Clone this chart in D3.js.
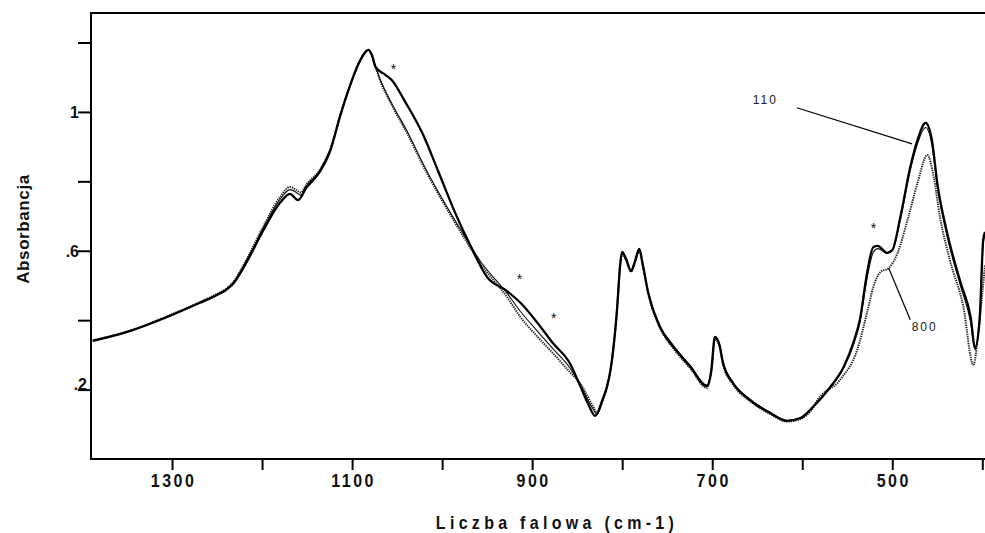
<!DOCTYPE html>
<html>
<head>
<meta charset="utf-8">
<script src="https://cdn.jsdelivr.net/npm/d3@7"></script>
<style>
  body { margin: 0; background: #fff; }
  svg { display: block; font-family: "Liberation Sans", Arial, sans-serif; }
</style>
</head>
<body>
<script>
// wavenumbers (cm-1) and absorbance
const wn110 = [1388, 1350, 1300, 1269, 1252, 1240, 1232, 1217, 1199, 1180, 1169, 1160, 1151, 1136, 1124, 1113, 1102, 1093, 1086, 1082, 1078, 1074, 1063, 1056, 1041, 1022, 1004, 986, 969, 950, 928, 913, 894, 877, 858, 847, 838, 830, 822, 817, 813, 806, 802, 800, 796, 790, 786, 781, 777, 771, 758, 743, 724, 706, 701, 697, 692, 688, 677, 658, 636, 617, 602, 588, 569, 554, 543, 536, 528, 521, 516, 510, 506, 500, 491, 480, 472, 463, 456, 450, 439, 424, 413, 408, 403, 399, 397];
const abs110 = [0.340, 0.366, 0.415, 0.450, 0.470, 0.487, 0.505, 0.568, 0.657, 0.738, 0.764, 0.746, 0.781, 0.827, 0.890, 0.991, 1.078, 1.138, 1.170, 1.179, 1.165, 1.130, 1.107, 1.092, 1.029, 0.939, 0.827, 0.712, 0.617, 0.524, 0.484, 0.450, 0.392, 0.334, 0.275, 0.213, 0.160, 0.124, 0.170, 0.207, 0.256, 0.421, 0.565, 0.597, 0.579, 0.542, 0.568, 0.605, 0.559, 0.478, 0.380, 0.323, 0.265, 0.210, 0.256, 0.352, 0.329, 0.277, 0.219, 0.170, 0.133, 0.110, 0.118, 0.150, 0.207, 0.265, 0.337, 0.401, 0.536, 0.611, 0.614, 0.602, 0.594, 0.602, 0.697, 0.841, 0.919, 0.968, 0.919, 0.795, 0.651, 0.507, 0.409, 0.320, 0.401, 0.631, 0.654];

const wn800 = [1388, 1350, 1300, 1269, 1252, 1240, 1232, 1217, 1199, 1180, 1169, 1162, 1157, 1151, 1136, 1124, 1113, 1102, 1093, 1086, 1082, 1078, 1074, 1069, 1056, 1039, 1017, 994, 974, 958, 928, 913, 894, 877, 858, 847, 832, 828, 822, 817, 813, 806, 802, 800, 796, 790, 786, 781, 777, 771, 758, 743, 724, 706, 701, 697, 692, 688, 677, 658, 636, 617, 602, 588, 583, 558, 539, 528, 521, 513, 504, 494, 483, 472, 461, 454, 447, 436, 421, 410, 403, 397];
const abs800 = [0.342, 0.367, 0.417, 0.452, 0.473, 0.490, 0.510, 0.576, 0.668, 0.755, 0.784, 0.775, 0.768, 0.790, 0.833, 0.895, 0.991, 1.078, 1.138, 1.170, 1.179, 1.160, 1.130, 1.092, 1.020, 0.939, 0.824, 0.718, 0.631, 0.565, 0.467, 0.409, 0.352, 0.305, 0.250, 0.219, 0.150, 0.133, 0.165, 0.207, 0.256, 0.421, 0.565, 0.592, 0.574, 0.540, 0.565, 0.598, 0.555, 0.475, 0.378, 0.318, 0.260, 0.205, 0.250, 0.345, 0.325, 0.272, 0.215, 0.167, 0.130, 0.108, 0.115, 0.148, 0.170, 0.228, 0.314, 0.421, 0.496, 0.539, 0.550, 0.594, 0.689, 0.795, 0.876, 0.813, 0.697, 0.573, 0.438, 0.271, 0.401, 0.559];

const wnMid = [1388, 1350, 1300, 1269, 1252, 1240, 1232, 1217, 1199, 1180, 1169, 1162, 1157, 1151, 1136, 1124, 1113, 1102, 1093, 1086, 1082, 1078, 1074, 1069, 1056, 1039, 1017, 994, 974, 958, 928, 913, 894, 877, 858, 847, 832, 828, 822, 817, 813, 806, 802, 800, 796, 790, 786, 781, 777, 771, 758, 743, 724, 706, 701, 697, 692, 688, 677, 658, 636, 617, 602, 588, 569, 554, 543, 536, 528, 521, 516, 510, 506, 500, 491, 480, 472, 463, 456, 450, 439, 424, 413, 408, 403, 399, 397];
const absMid = [0.340, 0.366, 0.416, 0.451, 0.472, 0.489, 0.508, 0.573, 0.663, 0.748, 0.776, 0.768, 0.760, 0.786, 0.830, 0.893, 0.991, 1.078, 1.138, 1.170, 1.179, 1.162, 1.132, 1.095, 1.025, 0.945, 0.830, 0.724, 0.638, 0.572, 0.478, 0.425, 0.368, 0.318, 0.262, 0.214, 0.143, 0.128, 0.167, 0.207, 0.256, 0.421, 0.562, 0.594, 0.576, 0.540, 0.566, 0.600, 0.556, 0.480, 0.384, 0.327, 0.268, 0.213, 0.252, 0.348, 0.330, 0.280, 0.222, 0.172, 0.135, 0.111, 0.118, 0.150, 0.205, 0.262, 0.330, 0.392, 0.520, 0.596, 0.606, 0.598, 0.592, 0.600, 0.690, 0.832, 0.908, 0.955, 0.905, 0.785, 0.640, 0.497, 0.395, 0.315, 0.395, 0.620, 0.645];

const xTicks = [1300, 1200, 1100, 1000, 900, 800, 700, 600, 500, 400];
const xLabels = ["1300", "", "1100", "", "900", "", "700", "", "500", ""];
const yTicks = [0.2, 0.4, 0.6, 0.8, 1.0, 1.2];
const yLabels = [".2", "", ".6", "", "1", ""];

// asterisks [wavenumber, absorbance] and sample labels
const stars = [[1054, 1.127], [914, 0.522], [876, 0.409], [521, 0.669]];
const sampleNames = ["110", "800"];
const labelAt = [[641, 1.023], [464, 0.369]];
const leaderFrom = [[606, 1.012], [480, 0.401]];
const leaderTo = [[478, 0.908], [504, 0.550]];

const W = 985, H = 533;
const mLeft = 91, mRight = 985, mTop = 13, mBottom = 459;

const svg = d3.select("body").append("svg")
  .attr("width", W)
  .attr("height", H);

const x = d3.scaleLinear().domain([1390, 397]).range([mLeft, mRight]);
const y = d3.scaleLinear().domain([0, 1.285]).range([mBottom, mTop]);

svg.append("defs").append("clipPath").attr("id", "plot")
  .append("rect").attr("x", mLeft).attr("y", mTop)
  .attr("width", mRight - mLeft).attr("height", mBottom - mTop);

// frame: left, top, bottom lines
svg.append("path")
  .attr("d", `M${mRight},${mTop}H${mLeft}V${mBottom}H${mRight}`)
  .attr("fill", "none").attr("stroke", "#000").attr("stroke-width", 2);

// x axis (labels are a bit taller than wide in the original)
const xAxis = d3.axisBottom(x).tickValues(xTicks).tickSize(11)
  .tickFormat((d, i) => xLabels[i]);
const gx = svg.append("g").attr("transform", `translate(0,${mBottom})`).call(xAxis);
gx.select(".domain").remove();
gx.selectAll("line").attr("stroke", "#000").attr("stroke-width", 2);
gx.selectAll("text")
  .attr("y", 24.5)
  .attr("dy", 0)
  .attr("dx", 1)
  .attr("transform", "scale(1,1.15)")
  .style("font-size", "16px")
  .style("font-weight", "bold")
  .style("letter-spacing", "2.5px")
  .attr("fill", "#111");

// y axis
const yAxis = d3.axisLeft(y).tickValues(yTicks).tickSize(13)
  .tickFormat((d, i) => yLabels[i]);
const gy = svg.append("g").attr("transform", `translate(${mLeft},0)`).call(yAxis);
gy.select(".domain").remove();
gy.selectAll("line").attr("stroke", "#000").attr("stroke-width", 2);
gy.selectAll("text")
  .attr("x", -12)
  .attr("dy", "0.36em")
  .style("font-size", "16px")
  .style("font-weight", "bold")
  .attr("fill", "#111");
// the ".2" label sits a little to the right in the original
gy.selectAll("text").filter(d => d === 0.2).attr("x", -4).attr("dy", "0.0em");

// axis titles
svg.append("text")
  .attr("transform", "translate(557,529) scale(1,1.2)")
  .attr("text-anchor", "middle")
  .style("font-size", "16px")
  .style("font-weight", "bold")
  .style("letter-spacing", "4.3px")
  .attr("fill", "#111")
  .text("Liczba falowa (cm-1)");

svg.append("text")
  .attr("transform", "translate(29,229) rotate(-90)")
  .attr("text-anchor", "middle")
  .style("font-size", "17px")
  .style("font-weight", "bold")
  .style("letter-spacing", "0.6px")
  .attr("fill", "#111")
  .text("Absorbancja");

// spectra
const line = (wn, ab) => d3.line()
  .x(i => x(wn[i]))
  .y(i => y(ab[i]))
  .curve(d3.curveMonotoneX)(d3.range(wn.length));

const plot = svg.append("g").attr("clip-path", "url(#plot)");

plot.append("path")
  .attr("d", line(wn800, abs800))
  .attr("fill", "none").attr("stroke", "#222")
  .attr("stroke-width", 2).attr("stroke-dasharray", "1.3,1");

plot.append("path")
  .attr("d", line(wnMid, absMid))
  .attr("fill", "none").attr("stroke", "#111")
  .attr("stroke-width", 1.1);

plot.append("path")
  .attr("d", line(wn110, abs110))
  .attr("fill", "none").attr("stroke", "#000")
  .attr("stroke-width", 2.3);

// asterisks
svg.selectAll(".star").data(stars).enter().append("text")
  .attr("class", "star")
  .attr("x", d => x(d[0])).attr("y", d => y(d[1]) + 6)
  .attr("text-anchor", "middle")
  .style("font-size", "14px")
  .attr("fill", "#111")
  .text("*");

// sample labels with leader lines
svg.selectAll(".leader").data(sampleNames).enter().append("line")
  .attr("class", "leader")
  .attr("x1", (d, i) => x(leaderFrom[i][0])).attr("y1", (d, i) => y(leaderFrom[i][1]))
  .attr("x2", (d, i) => x(leaderTo[i][0])).attr("y2", (d, i) => y(leaderTo[i][1]))
  .attr("stroke", "#000").attr("stroke-width", 1.2);

svg.selectAll(".sname").data(sampleNames).enter().append("text")
  .attr("class", "sname")
  .attr("x", (d, i) => x(labelAt[i][0])).attr("y", (d, i) => y(labelAt[i][1]))
  .attr("text-anchor", "middle")
  .style("font-size", "12px")
  .style("letter-spacing", "2px")
  .attr("fill", "#222")
  .text(d => d);
</script>
</body>
</html>
